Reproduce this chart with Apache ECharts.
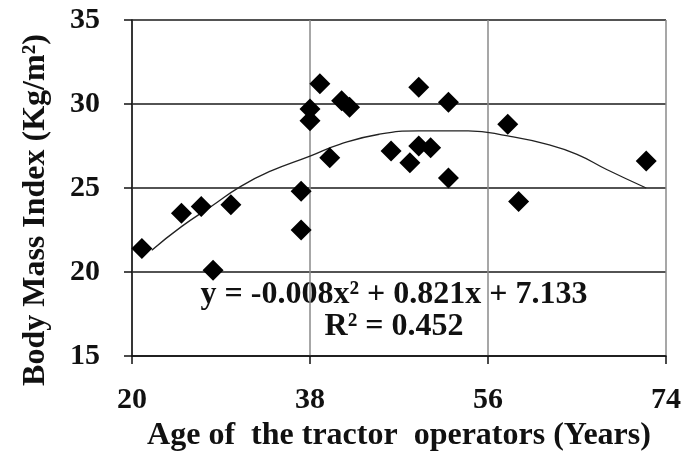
<!DOCTYPE html>
<html>
<head>
<meta charset="utf-8">
<script src="https://cdn.jsdelivr.net/npm/echarts@6/dist/echarts.min.js"></script>
<style>
  html, body { margin: 0; padding: 0; background: #fff; }
  #main { width: 684px; height: 459px; }
</style>
</head>
<body>
<div id="main"></div>
<script>
// ages and BMI of the tractor operators
const ages = [21, 25, 27, 28.2, 30, 37.1, 37.1, 38, 38, 39, 40, 41.2, 42, 46.2, 49, 52, 48.1, 49, 50.2, 52, 58, 59.1, 72];
const bmi = [21.4, 23.5, 23.9, 20.1, 24, 24.8, 22.5, 29.7, 29.0, 31.2, 26.8, 30.2, 29.8, 27.2, 31.0, 30.1, 26.5, 27.5, 27.4, 25.6, 28.8, 24.2, 26.6];

// polynomial trendline, points
const trendAges = [22, 25, 28, 31, 34, 38, 41, 45, 49, 54, 58, 62, 65, 68, 72];
const trendBmi = [21.3, 22.7, 23.9, 25.1, 26.0, 26.9, 27.6, 28.2, 28.4, 28.4, 28.1, 27.6, 27.0, 26.1, 25.0];

const xTicks = [20, 38, 56, 74];
const yTicks = [15, 20, 25, 30, 35];

const font = 'Liberation Serif';

const chart = echarts.init(document.getElementById('main'));

const option = {
  animation: false,
  grid: { left: 132, right: 15, top: 20, bottom: 103 },
  xAxis: {
    type: 'value',
    min: xTicks[0],
    max: xTicks[xTicks.length - 1],
    interval: 18,
    name: 'Age of  the tractor  operators (Years)',
    nameLocation: 'middle',
    nameGap: 61,
    nameTextStyle: { fontFamily: font, fontWeight: 'bold', fontSize: 32, color: '#111' },
    axisLine: { lineStyle: { color: '#111', width: 1.5 } },
    axisTick: { show: true, length: 8, lineStyle: { color: '#111', width: 1.5 } },
    axisLabel: { margin: 29, fontFamily: font, fontWeight: 'bold', fontSize: 30, color: '#111' },
    splitLine: { show: true, lineStyle: { color: '#8a8a8a', width: 1.5 } }
  },
  yAxis: {
    type: 'value',
    min: yTicks[0],
    max: yTicks[yTicks.length - 1],
    interval: 5,
    name: 'Body Mass Index (Kg/m²)',
    nameLocation: 'middle',
    nameGap: 80,
    nameTextStyle: { fontFamily: font, fontWeight: 'bold', fontSize: 32, color: '#111', padding: [0, 44, 0, 0] },
    axisLine: { show: true, lineStyle: { color: '#111', width: 1.5 } },
    axisTick: { show: true, length: 8, lineStyle: { color: '#111', width: 1.5 } },
    axisLabel: { margin: 32, fontFamily: font, fontWeight: 'bold', fontSize: 30, color: '#111' },
    splitLine: { show: true, lineStyle: { color: '#1a1a1a', width: 1.5 } }
  },
  series: [
    {
      type: 'line',
      data: trendAges.map((a, i) => [a, trendBmi[i]]),
      smooth: true,
      showSymbol: false,
      lineStyle: { color: '#222', width: 1.3 },
      z: 3
    },
    {
      type: 'scatter',
      data: ages.map((a, i) => [a, bmi[i]]),
      symbol: 'diamond',
      symbolSize: 21,
      itemStyle: { color: '#000', opacity: 1 },
      z: 4
    }
  ],
  graphic: [
    {
      type: 'text',
      x: 394,
      y: 279,
      style: { text: 'y = -0.008x² + 0.821x + 7.133', font: 'bold 32px "Liberation Serif"', fill: '#111', align: 'center' }
    },
    {
      type: 'text',
      x: 394,
      y: 311,
      style: { text: 'R² = 0.452', font: 'bold 32px "Liberation Serif"', fill: '#111', align: 'center' }
    }
  ]
};

chart.setOption(option);
</script>
</body>
</html>
